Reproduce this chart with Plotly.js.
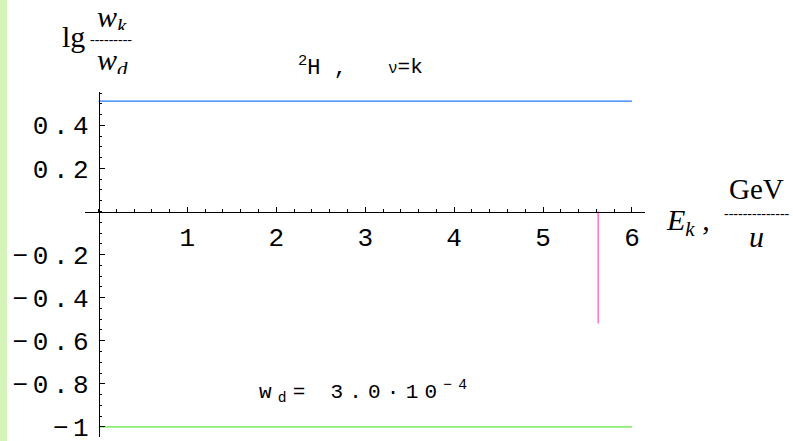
<!DOCTYPE html>
<html>
<head>
<meta charset="utf-8">
<script src="https://cdn.plot.ly/plotly-3.0.1.min.js"></script>
<style>
html,body{margin:0;padding:0;background:#fff;}
#chart{width:793px;height:441px;}
</style>
</head>
<body>
<div id="chart"></div>
<script>
// ---- data ----
const energyRange = [0, 6];            // E_k, GeV/u
const blueLevel = [0.513, 0.513];      // lg(w_k/w_d), upper line
const greenLevel = [-1.0, -1.0];       // lg(w_k/w_d), lower line
const pinkX = [5.62, 5.62];            // vertical marker position
const pinkY = [0, -0.52];              // vertical marker extent
const xTickVals = [1, 2, 3, 4, 5, 6];
const xTickText = ['1', '2', '3', '4', '5', '6'];
const yTickVals = [-1, -0.8, -0.6, -0.4, -0.2, 0.2, 0.4];
const yTickText = ['−1', '−0.8', '−0.6', '−0.4', '−0.2', '0.2', '0.4'];

const W = 793, H = 441;
const M = {l: 85, r: 148, t: 92, b: 4};
const PW = W - M.l - M.r, PH = H - M.t - M.b;
const xRange = [-0.152, 6.147];
const yRange = [-1.047, 0.555];
function px(x) { return (x - M.l) / PW; }
function py(y) { return 1 - (y - M.t) / PH; }

const spaced = s => '<span style="letter-spacing:4.6px">' + s + '</span>';

const traces = [
  {x: energyRange, y: blueLevel, mode: 'lines', line: {color: '#1f7bff', width: 1.2}, hoverinfo: 'skip'},
  {x: energyRange, y: greenLevel, mode: 'lines', line: {color: '#5fe83c', width: 1.2}, hoverinfo: 'skip'},
  {x: pinkX, y: pinkY, mode: 'lines', line: {color: '#ff4fb4', width: 1.2}, hoverinfo: 'skip'}
];

const tickFont = {family: 'Liberation Mono, DejaVu Sans Mono, monospace', size: 26, color: '#000'};
const serif = 'Liberation Serif, DejaVu Serif, serif';
const mono = 'Liberation Mono, DejaVu Sans Mono, monospace';

const layout = {
  width: W, height: H,
  margin: M,
  paper_bgcolor: '#fff', plot_bgcolor: 'rgba(0,0,0,0)',
  showlegend: false, hovermode: false,
  xaxis: {
    range: xRange, anchor: 'free', position: (0 - yRange[0]) / (yRange[1] - yRange[0]),
    showline: true, linecolor: '#000', linewidth: 1, zeroline: false, showgrid: false,
    ticks: 'inside', ticklen: 5, tickwidth: 1, tickcolor: '#000',
    tickmode: 'array', tickvals: xTickVals, ticktext: xTickText,
    tickfont: tickFont, ticklabelstandoff: 2, ticklabeloverflow: 'allow',
    minor: {tickmode: 'linear', tick0: 0, dtick: 0.2, ticks: 'inside', ticklen: 2.5, tickwidth: 1, tickcolor: '#000', showgrid: false}
  },
  yaxis: {
    range: yRange, anchor: 'free', position: (0 - xRange[0]) / (xRange[1] - xRange[0]),
    showline: true, linecolor: '#000', linewidth: 1, zeroline: false, showgrid: false,
    ticks: 'inside', ticklen: 5, tickwidth: 1, tickcolor: '#000',
    tickmode: 'array', tickvals: yTickVals, ticktext: yTickText.map(spaced),
    tickfont: tickFont, ticklabelstandoff: 0, ticklabeloverflow: 'allow',
    minor: {tickmode: 'linear', tick0: 0, dtick: 0.05, ticks: 'inside', ticklen: 2.5, tickwidth: 1, tickcolor: '#000', showgrid: false}
  },
  shapes: [
    {type: 'rect', xref: 'paper', yref: 'paper', x0: px(0), x1: px(7), y0: py(0), y1: py(H),
     fillcolor: '#d3f3b9', line: {width: 0}, layer: 'below'}
  ],
  annotations: [
    {xref: 'paper', yref: 'paper', x: px(60), y: py(37), xanchor: 'left', yanchor: 'middle', showarrow: false,
     text: 'lg', font: {family: serif, size: 30, color: '#000'}},
    {xref: 'paper', yref: 'paper', x: px(112), y: py(19), xanchor: 'center', yanchor: 'middle', showarrow: false,
     height: 22, valign: 'middle',
     text: '<i>w<sub>k</sub></i>', font: {family: serif, size: 30, color: '#000'}},
    {xref: 'paper', yref: 'paper', x: px(111), y: py(39), xanchor: 'center', yanchor: 'middle', showarrow: false,
     height: 6, valign: 'middle',
     text: '---------', font: {family: serif, size: 14, color: '#000'}},
    {xref: 'paper', yref: 'paper', x: px(112), y: py(62), xanchor: 'center', yanchor: 'middle', showarrow: false,
     height: 24, valign: 'middle',
     text: '<i>w<sub>d</sub></i>', font: {family: serif, size: 30, color: '#000'}},
    {xref: 'paper', yref: 'paper', x: px(296), y: py(66), xanchor: 'left', yanchor: 'middle', showarrow: false,
     text: '<sup>2</sup>H ,', font: {family: mono, size: 22, color: '#000'}},
    {xref: 'paper', yref: 'paper', x: px(386), y: py(68), xanchor: 'left', yanchor: 'middle', showarrow: false,
     text: '<span style="font-size:16px">ν</span>=k', font: {family: mono, size: 21, color: '#000'}},
    {xref: 'paper', yref: 'paper', x: px(257), y: py(391), xanchor: 'left', yanchor: 'middle', showarrow: false,
     text: '<span style="letter-spacing:6.2px">w<sub>d</sub>=&nbsp;3.0·10<sup>−4</sup></span>', font: {family: mono, size: 21, color: '#000'}},
    {xref: 'paper', yref: 'paper', x: px(664), y: py(222), xanchor: 'left', yanchor: 'middle', showarrow: false,
     text: '<i>E<sub>k</sub></i> ,', font: {family: serif, size: 30, color: '#000'}},
    {xref: 'paper', yref: 'paper', x: px(756), y: py(189), xanchor: 'center', yanchor: 'middle', showarrow: false,
     text: 'GeV', font: {family: serif, size: 29, color: '#000'}},
    {xref: 'paper', yref: 'paper', x: px(757), y: py(213), xanchor: 'center', yanchor: 'middle', showarrow: false,
     text: '--------------', font: {family: serif, size: 14, color: '#000'}},
    {xref: 'paper', yref: 'paper', x: px(756), y: py(236), xanchor: 'center', yanchor: 'middle', showarrow: false,
     text: '<i>u</i>', font: {family: serif, size: 30, color: '#000'}}
  ]
};

Plotly.newPlot('chart', traces, layout, {displayModeBar: false, staticPlot: true});
</script>
</body>
</html>
